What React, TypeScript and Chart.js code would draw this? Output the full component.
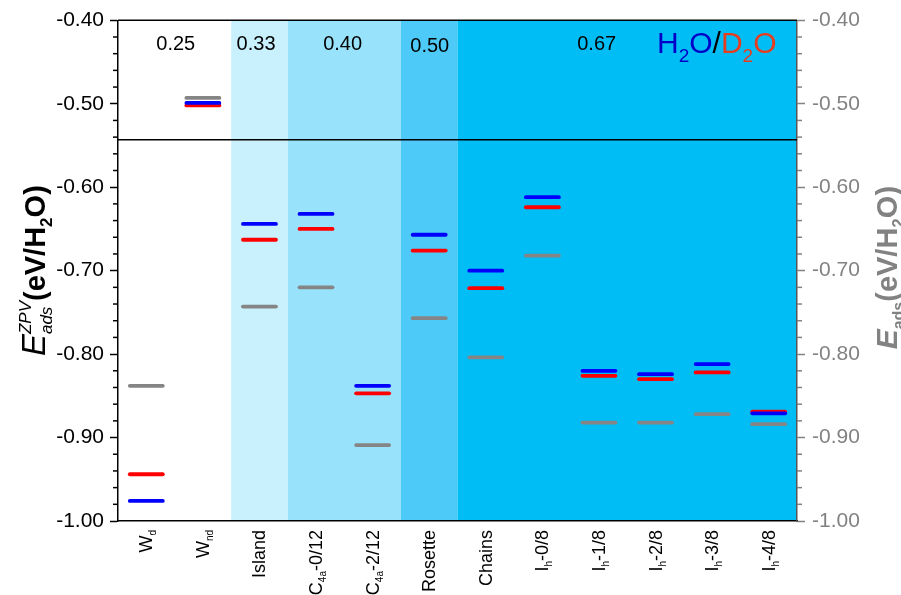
import React, { useEffect, useRef } from "react";
import { Chart, registerables } from "chart.js";

Chart.register(...registerables);

// ---- data ----
const CATEGORIES = ["Wd", "Wnd", "Island", "C4a-0/12", "C4a-2/12", "Rosette", "Chains", "Ih-0/8", "Ih-1/8", "Ih-2/8", "Ih-3/8", "Ih-4/8"];
// label pieces: [base, subscript, rest]
const LABEL_PARTS: [string, string, string][] = [
  ["W", "d", ""], ["W", "nd", ""], ["Island", "", ""], ["C", "4a", "-0/12"], ["C", "4a", "-2/12"],
  ["Rosette", "", ""], ["Chains", "", ""], ["I", "h", "-0/8"], ["I", "h", "-1/8"], ["I", "h", "-2/8"],
  ["I", "h", "-3/8"], ["I", "h", "-4/8"],
];
const H2O_ZPV = [-0.976, -0.499, -0.644, -0.632, -0.838, -0.657, -0.700, -0.612, -0.820, -0.824, -0.812, -0.871];
const D2O_ZPV = [-0.944, -0.502, -0.663, -0.650, -0.847, -0.676, -0.721, -0.624, -0.826, -0.830, -0.822, -0.869];
const E_ADS = [-0.838, -0.493, -0.743, -0.720, -0.909, -0.757, -0.804, -0.682, -0.882, -0.882, -0.872, -0.884];
const COVERAGE = ["0.25", "0.33", "0.40", "0.50", "0.67"];
const COVERAGE_RANGES: [number, number][] = [[0, 1], [2, 2], [3, 4], [5, 5], [6, 11]];
const Y_MIN = -1.0;
const Y_MAX = -0.4;
const Y_STEP = 0.1;
const Y_MINOR_STEP = 0.02;
const BREAK_VALUE = -0.543;

// ---- styles ----
const FONT = "'Liberation Sans', Arial, Helvetica, sans-serif";
const BAND_COLORS = ["#ffffff", "#c8f1fd", "#98e3fb", "#4dcaf7", "#00bdf6"];
const COVERAGE_POS = [0.52, 1.94, 3.47, 5.01, 7.96];
const COVERAGE_BASE = [50, 50, 50, 52, 50];
const BLUE = "#0000ff";
const RED = "#ff0000";
const GRAY = "#858585";
const RIGHT_GRAY = "#828282";

type Part = { t: string; font: string; color: string; dy?: number; stack?: boolean };

function drawRich(ctx: CanvasRenderingContext2D, x: number, y: number, angle: number, align: string, parts: Part[]) {
  ctx.save();
  const widths = parts.map((p) => { ctx.font = p.font; return ctx.measureText(p.t).width; });
  let total = 0;
  let pendingStack = 0;
  parts.forEach((p, i) => {
    if (p.stack) { pendingStack = Math.max(pendingStack, widths[i]); }
    else { total += Math.max(pendingStack, widths[i]); pendingStack = 0; }
  });
  total += pendingStack;
  ctx.translate(x, y);
  ctx.rotate(angle);
  ctx.textBaseline = "alphabetic";
  ctx.textAlign = "left";
  let cx = align === "center" ? -total / 2 : align === "right" ? -total : 0;
  pendingStack = 0;
  parts.forEach((p, i) => {
    ctx.font = p.font;
    ctx.fillStyle = p.color;
    ctx.fillText(p.t, cx, p.dy || 0);
    if (p.stack) { pendingStack = Math.max(pendingStack, widths[i]); }
    else { cx += Math.max(pendingStack, widths[i]); pendingStack = 0; }
  });
  ctx.restore();
}

const decorPlugin = {
  id: "decor",
  beforeDraw(chart: any) {
    const { ctx, chartArea: a, scales } = chart;
    const xs = scales.x;
    ctx.save();
    ctx.fillStyle = "#ffffff";
    ctx.fillRect(0, 0, chart.width, chart.height);
    COVERAGE_RANGES.forEach(([s, e], i) => {
      const x0 = xs.getPixelForValue(s - 0.5);
      const x1 = xs.getPixelForValue(e + 0.5);
      ctx.fillStyle = BAND_COLORS[i];
      ctx.fillRect(x0, a.top, x1 - x0, a.bottom - a.top);
    });
    ctx.restore();
  },
  beforeDatasetsDraw(chart: any) {
    chart.ctx.lineCap = "round";
  },
  afterDatasetsDraw(chart: any) {
    chart.ctx.lineCap = "butt";
  },
  afterDraw(chart: any) {
    const { ctx, chartArea: a, scales } = chart;
    const xs = scales.x, yl = scales.y;
    ctx.save();
    ctx.strokeStyle = "#000";
    ctx.lineWidth = 1.5;
    ctx.beginPath();
    ctx.moveTo(a.left, a.top);
    ctx.lineTo(a.right, a.top);
    const by = yl.getPixelForValue(BREAK_VALUE);
    ctx.moveTo(a.left, by);
    ctx.lineTo(a.right, by);
    ctx.stroke();
    const n = Math.round((Y_MAX - Y_MIN) / Y_MINOR_STEP);
    const ratio = Math.round(Y_STEP / Y_MINOR_STEP);
    ctx.lineWidth = 1.5;
    for (let k = 0; k <= n; k++) {
      if (k % ratio === 0) continue;
      const v = Y_MIN + k * Y_MINOR_STEP;
      const py = yl.getPixelForValue(v);
      ctx.strokeStyle = "#000";
      ctx.beginPath(); ctx.moveTo(a.left - 5, py); ctx.lineTo(a.left, py); ctx.stroke();
      ctx.strokeStyle = RIGHT_GRAY;
      ctx.beginPath(); ctx.moveTo(a.right, py); ctx.lineTo(a.right + 5, py); ctx.stroke();
    }
    ctx.font = `20px ${FONT}`;
    ctx.fillStyle = "#000";
    ctx.textAlign = "center";
    ctx.textBaseline = "alphabetic";
    COVERAGE.forEach((c, i) => {
      ctx.fillText(c, xs.getPixelForValue(COVERAGE_POS[i]), COVERAGE_BASE[i]);
    });
    const big = `30px ${FONT}`, sub = `19px ${FONT}`;
    drawRich(ctx, 657, 53, 0, "left", [
      { t: "H", font: big, color: "#0000c8" },
      { t: "2", font: sub, color: "#0000c8", dy: 9 },
      { t: "O", font: big, color: "#0000c8" },
      { t: "/", font: big, color: "#000" },
      { t: "D", font: big, color: "#e83c1e" },
      { t: "2", font: sub, color: "#e83c1e", dy: 9 },
      { t: "O", font: big, color: "#e83c1e" },
    ]);
    const lf = `18px ${FONT}`, ls = `10px ${FONT}`;
    LABEL_PARTS.forEach(([b, s, r], i) => {
      const px = xs.getPixelForValue(i);
      const parts: Part[] = [{ t: b, font: lf, color: "#000" }];
      if (s) parts.push({ t: s, font: ls, color: "#000", dy: 4 });
      if (r) parts.push({ t: r, font: lf, color: "#000" });
      drawRich(ctx, px + 6, a.bottom + 9, -Math.PI / 2, "right", parts);
    });
    const tm = `bold 29px ${FONT}`, ts = `bold 17px ${FONT}`;
    drawRich(ctx, 45, (a.top + a.bottom) / 2, -Math.PI / 2, "center", [
      { t: "E", font: `italic 33px ${FONT}`, color: "#000" },
      { t: "ZPV", font: `italic 17px ${FONT}`, color: "#000", dy: -14, stack: true },
      { t: "ads", font: `italic 17px ${FONT}`, color: "#000", dy: 7 },
      { t: "(eV/H", font: tm, color: "#000" },
      { t: "2", font: ts, color: "#000", dy: 7 },
      { t: "O)", font: tm, color: "#000" },
    ]);
    drawRich(ctx, 897, (a.top + a.bottom) / 2 - 3, -Math.PI / 2, "center", [
      { t: "E", font: `bold italic 30px ${FONT}`, color: RIGHT_GRAY },
      { t: "ads", font: `bold 16px ${FONT}`, color: RIGHT_GRAY, dy: 7 },
      { t: "(eV/H", font: tm, color: RIGHT_GRAY },
      { t: "2", font: ts, color: RIGHT_GRAY, dy: 7 },
      { t: "O)", font: tm, color: RIGHT_GRAY },
    ]);
    ctx.restore();
  },
};

function levelSet(data: number[], color: string) {
  return {
    data,
    showLine: false,
    pointStyle: "line",
    pointRadius: 16.5,
    pointHoverRadius: 16.5,
    pointBorderWidth: 3.8,
    pointHoverBorderWidth: 3.8,
    pointBorderColor: color,
    pointBackgroundColor: color,
    borderColor: color,
  };
}

export default function App() {
  const ref = useRef<HTMLCanvasElement | null>(null);
  useEffect(() => {
    if (!ref.current) return;
    const tickFont = { size: 21, family: FONT };
    const chart = new Chart(ref.current, {
      type: "line",
      data: {
        labels: CATEGORIES,
        datasets: [levelSet(E_ADS, GRAY), levelSet(H2O_ZPV, BLUE), levelSet(D2O_ZPV, RED)] as any,
      },
      options: {
        responsive: false,
        animation: false,
        devicePixelRatio: 1,
        events: [],
        layout: { padding: { top: 20, left: 0, right: 0, bottom: 0 } },
        plugins: { legend: { display: false }, tooltip: { enabled: false } },
        scales: {
          x: {
            type: "category",
            offset: true,
            ticks: { display: false },
            grid: { display: false },
            border: { display: true, color: "#000", width: 1.5 },
            afterFit: (s: any) => { s.height = 74; },
          },
          y: {
            position: "left",
            min: Y_MIN,
            max: Y_MAX,
            ticks: { stepSize: Y_STEP, color: "#000", font: tickFont, padding: 6, callback: (v: any) => Number(v).toFixed(2) },
            grid: { drawOnChartArea: false, drawTicks: true, tickLength: 8, tickColor: "#000", tickWidth: 1.5 },
            border: { display: true, color: "#000", width: 1.5 },
            afterFit: (s: any) => { s.width = 118; },
          },
          y2: {
            position: "right",
            min: Y_MIN,
            max: Y_MAX,
            ticks: { stepSize: Y_STEP, color: RIGHT_GRAY, font: tickFont, padding: 7, callback: (v: any) => Number(v).toFixed(2) },
            grid: { drawOnChartArea: false, drawTicks: true, tickLength: 8, tickColor: RIGHT_GRAY, tickWidth: 1.5 },
            border: { display: true, color: "#555", width: 1.5 },
            afterFit: (s: any) => { s.width = 104; },
          },
        },
      } as any,
      plugins: [decorPlugin],
    });
    return () => chart.destroy();
  }, []);
  return (
    <div style={{ position: "absolute", left: 0, top: 0, width: 901, height: 595 }}>
      <canvas ref={ref} width={901} height={595} style={{ width: 901, height: 595, display: "block" }} />
    </div>
  );
}
